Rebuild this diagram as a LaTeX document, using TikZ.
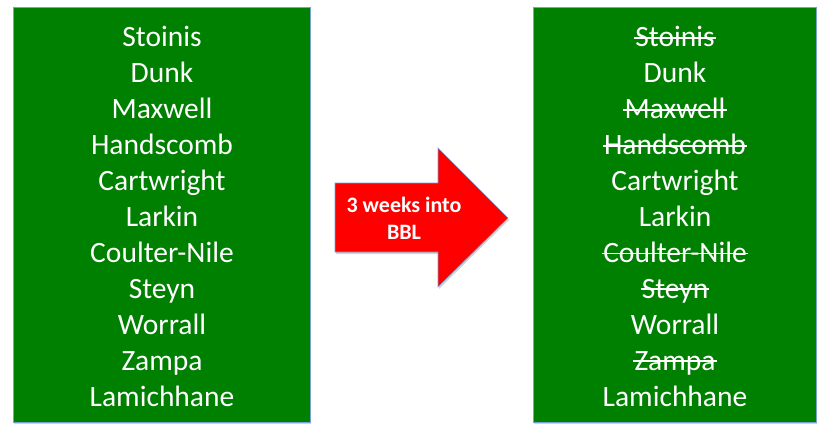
\documentclass[tikz,border=0pt]{standalone}
\usepackage{fontspec}
\setmainfont{Carlito}
\usetikzlibrary{shadows}
\definecolor{boxgreen}{RGB}{0,128,0}
\definecolor{edgeblue}{RGB}{120,160,210}
\tikzset{
  listbox/.style={fill=boxgreen, draw=edgeblue, line width=0.6pt,
    drop shadow={shadow xshift=1pt, shadow yshift=-2pt, opacity=0.35}},
  arrowbox/.style={fill=red, draw=edgeblue, line width=0.6pt,
    drop shadow={shadow xshift=1pt, shadow yshift=-2pt, opacity=0.35}},
  player/.style={anchor=base, text=white, inner xsep=1pt,
    font=\fontsize{29.5}{35.9}\selectfont},
  struck/.style={white, line width=1.8pt}
}
\begin{document}
\begin{tikzpicture}[x=1pt, y=-1pt]
\useasboundingbox (0,0) rectangle (826,436);
% the two lists
\draw[listbox] (13,7) rectangle (310,422);
\draw[listbox] (533,7) rectangle (816,422);
% before
\node[player] (l1) at (162,47) {Stoinis};
\node[player] (l2) at (162,82.9) {Dunk};
\node[player] (l3) at (162,118.8) {Maxwell};
\node[player] (l4) at (162,154.7) {Handscomb};
\node[player] (l5) at (162,190.6) {Cartwright};
\node[player] (l6) at (162,226.5) {Larkin};
\node[player] (l7) at (162,262.4) {Coulter-Nile};
\node[player] (l8) at (162,298.3) {Steyn};
\node[player] (l9) at (162,334.2) {Worrall};
\node[player] (l10) at (162,370.1) {Zampa};
\node[player] (l11) at (162,406) {Lamichhane};
% after
\node[player] (r1) at (675,47) {Stoinis};
\node[player] (r2) at (675,82.9) {Dunk};
\node[player] (r3) at (675,118.8) {Maxwell};
\node[player] (r4) at (675,154.7) {Handscomb};
\node[player] (r5) at (675,190.6) {Cartwright};
\node[player] (r6) at (675,226.5) {Larkin};
\node[player] (r7) at (675,262.4) {Coulter-Nile};
\node[player] (r8) at (675,298.3) {Steyn};
\node[player] (r9) at (675,334.2) {Worrall};
\node[player] (r10) at (675,370.1) {Zampa};
\node[player] (r11) at (675,406) {Lamichhane};
% crossed out
\draw[struck] ([yshift=9pt]r1.base west) -- ([yshift=9pt]r1.base east);
\draw[struck] ([yshift=9pt]r3.base west) -- ([yshift=9pt]r3.base east);
\draw[struck] ([yshift=9pt]r4.base west) -- ([yshift=9pt]r4.base east);
\draw[struck] ([yshift=9pt]r7.base west) -- ([yshift=9pt]r7.base east);
\draw[struck] ([yshift=9pt]r8.base west) -- ([yshift=9pt]r8.base east);
\draw[struck] ([yshift=9pt]r10.base west) -- ([yshift=9pt]r10.base east);
% arrow
\draw[arrowbox] (335,183) -- (438,183) -- (438,148) -- (508,218)
  -- (438,287) -- (438,252) -- (335,252) -- cycle;
\node[text=white, align=center, font=\bfseries\fontsize{22}{27}\selectfont]
  (gap) at (404,218) {3 weeks into\\BBL};
\end{tikzpicture}
\end{document}
